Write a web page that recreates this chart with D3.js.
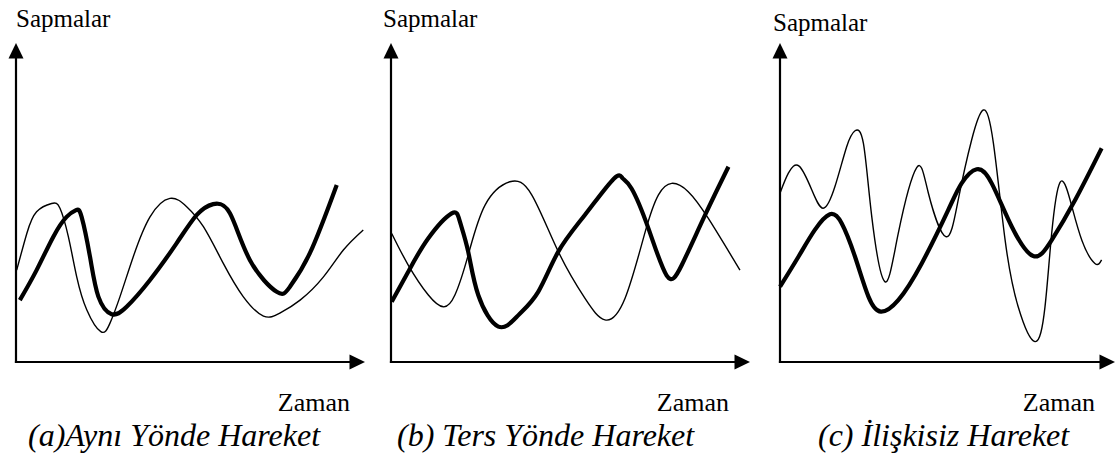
<!DOCTYPE html>
<html>
<head>
<meta charset="utf-8">
<script src="https://cdn.jsdelivr.net/npm/d3@7"></script>
<style>
  html, body { margin: 0; padding: 0; background: #fff; }
  svg { display: block; font-family: "Liberation Serif", serif; }
</style>
</head>
<body>
<svg id="chart" width="1119" height="457"></svg>
<script>
// ---- Data (time 0..100, deviation 0..100) ----
const yLabel = "Sapmalar";
const xLabel = "Zaman";
const captions = ["(a)Aynı Yönde Hareket", "(b) Ters Yönde Hareket", "(c) İlişkisiz Hareket"];

// Panel (a) same direction
const aThinT  = [0.2, 3.1, 5.9, 10.2, 12.6, 15.0, 17.4, 20.3, 24.3, 26.9, 29.8, 33.6, 38.4, 44.1, 48.9, 53.7, 59.4, 65.1, 70.9, 75.6, 81.4, 88.1, 93.8, 99.5];
const aThinV  = [28.8, 40.3, 47.1, 49.7, 48.2, 39.3, 26.7, 16.3, 9.5, 12.1, 20.5, 33.0, 45.5, 51.3, 48.7, 42.4, 30.9, 20.5, 14.4, 15.3, 19.4, 26.7, 35.1, 41.4];
const aThickT = [1.1, 5.9, 10.7, 14.5, 17.2, 18.8, 21.2, 23.6, 27.4, 31.7, 38.4, 46.0, 51.8, 56.5, 61.3, 67.0, 74.7, 78.5, 84.2, 91.9];
const aThickV = [19.4, 28.8, 39.3, 45.5, 47.6, 45.5, 33.0, 20.5, 15.0, 17.3, 25.7, 37.2, 46.1, 49.5, 46.6, 32.0, 22.0, 23.6, 34.1, 55.5];

// Panel (b) opposite direction
const bThinT  = [0.2, 4.8, 10.4, 14.6, 17.8, 21.5, 26.2, 33.1, 39.2, 46.6, 54.0, 59.6, 65.2, 70.8, 74.5, 78.2, 82.8, 88.4, 97.2];
const bThinV  = [40.3, 30.4, 21.0, 17.3, 21.0, 33.5, 49.2, 56.5, 52.4, 34.6, 20.0, 13.2, 20.0, 40.8, 52.4, 56.0, 53.4, 45.0, 28.8];
const bThickT = [0.2, 4.8, 10.4, 16.9, 19.2, 21.5, 24.3, 29.9, 35.5, 41.0, 46.6, 54.0, 62.0, 64.5, 67.0, 71.7, 76.8, 81.0, 87.5, 94.0];
const bThickV = [18.9, 28.3, 38.8, 46.6, 44.0, 34.6, 21.0, 11.1, 14.7, 22.0, 34.6, 46.1, 57.4, 57.6, 54.4, 41.9, 27.1, 30.4, 46.1, 61.2];

// Panel (c) unrelated
const cThinT  = [0, 2.5, 5.7, 9.5, 12.9, 16.4, 19.9, 22.4, 24.9, 27.4, 31.3, 35.3, 40.8, 44.3, 49.5, 53.2, 57.2, 60.7, 63.7, 67.2, 71.1, 76.1, 79.1, 81.1, 83.6, 86.6, 90.1, 94.0, 96.0];
const cThinV  = [52.9, 59.2, 61.4, 53.9, 48.2, 55.0, 67.5, 72.5, 68.5, 45.5, 25.2, 40.3, 60.9, 52.9, 39.3, 50.8, 69.6, 79.0, 68.6, 38.2, 17.3, 6.4, 17.3, 40.3, 56.3, 50.8, 38.2, 30.9, 32.0];
const cThickT = [0, 5.5, 10.4, 14.9, 18.4, 22.4, 26.4, 30.1, 35.3, 42.3, 50.2, 54.2, 58.7, 63.2, 69.2, 75.6, 81.1, 88.1, 96.0];
const cThickV = [23.6, 33.0, 41.4, 46.3, 43.5, 33.0, 20.5, 15.8, 19.4, 30.9, 47.6, 56.0, 60.4, 56.0, 42.4, 33.2, 38.2, 50.8, 67.0];

const zip = (t, v) => t.map((d, i) => ({ t: d, v: v[i] }));

// ---- Layout ----
const FONT = "Liberation Serif";
const panels = [
  { x0: 16,  x1: 365,  labelX: 16,  labelY: 27, zamanEnd: 350,  capX: 28,
    thin: zip(aThinT, aThinV), thick: zip(aThickT, aThickV), cap: captions[0] },
  { x0: 391, x1: 750,  labelX: 383, labelY: 27, zamanEnd: 729,  capX: 397,
    thin: zip(bThinT, bThinV), thick: zip(bThickT, bThickV), cap: captions[1] },
  { x0: 780, x1: 1115, labelX: 773, labelY: 31, zamanEnd: 1095, capX: 818,
    thin: zip(cThinT, cThinV), thick: zip(cThickT, cThickV), cap: captions[2] }
];
const yBase = 362, yTop = 43;

const svg = d3.select("#chart");

panels.forEach(p => {
  const x = d3.scaleLinear().domain([0, 100]).range([p.x0, p.x1]);
  const y = d3.scaleLinear().domain([0, 100]).range([yBase, yTop]);
  const g = svg.append("g");

  const line = d3.line().x(d => x(d.t)).y(d => y(d.v)).curve(d3.curveNatural);

  g.append("path").datum(p.thin).attr("d", line)
    .attr("fill", "none").attr("stroke", "#000").attr("stroke-width", 1.4);
  g.append("path").datum(p.thick).attr("d", line)
    .attr("fill", "none").attr("stroke", "#000").attr("stroke-width", 4.2);

  // axes
  const arrowLen = 15.5, arrowHalf = 7.5;
  g.append("line").attr("x1", x(0)).attr("x2", x(0))
    .attr("y1", y(0) + 1).attr("y2", y(100) + arrowLen - 1)
    .attr("stroke", "#000").attr("stroke-width", 2.2);
  g.append("line").attr("x1", x(0) - 1.1).attr("x2", x(100) - arrowLen + 1)
    .attr("y1", y(0)).attr("y2", y(0))
    .attr("stroke", "#000").attr("stroke-width", 2.2);
  g.append("path")
    .attr("d", `M${x(0)},${y(100)} L${x(0) - arrowHalf},${y(100) + arrowLen} L${x(0) + arrowHalf},${y(100) + arrowLen} Z`)
    .attr("fill", "#000");
  g.append("path")
    .attr("d", `M${x(100)},${y(0)} L${x(100) - arrowLen},${y(0) - arrowHalf} L${x(100) - arrowLen},${y(0) + arrowHalf} Z`)
    .attr("fill", "#000");

  // labels
  g.append("text").attr("x", p.labelX).attr("y", p.labelY)
    .style("font-family", FONT).attr("fill", "#000")
    .attr("font-size", 25).text(yLabel);
  g.append("text").attr("x", p.zamanEnd).attr("y", 411)
    .style("font-family", FONT).attr("fill", "#000")
    .attr("text-anchor", "end").attr("font-size", 26).text(xLabel);
  g.append("text").attr("x", p.capX).attr("y", 446)
    .style("font-family", FONT).attr("fill", "#000")
    .attr("font-size", 32).attr("font-style", "italic").text(p.cap);
});
</script>
</body>
</html>
